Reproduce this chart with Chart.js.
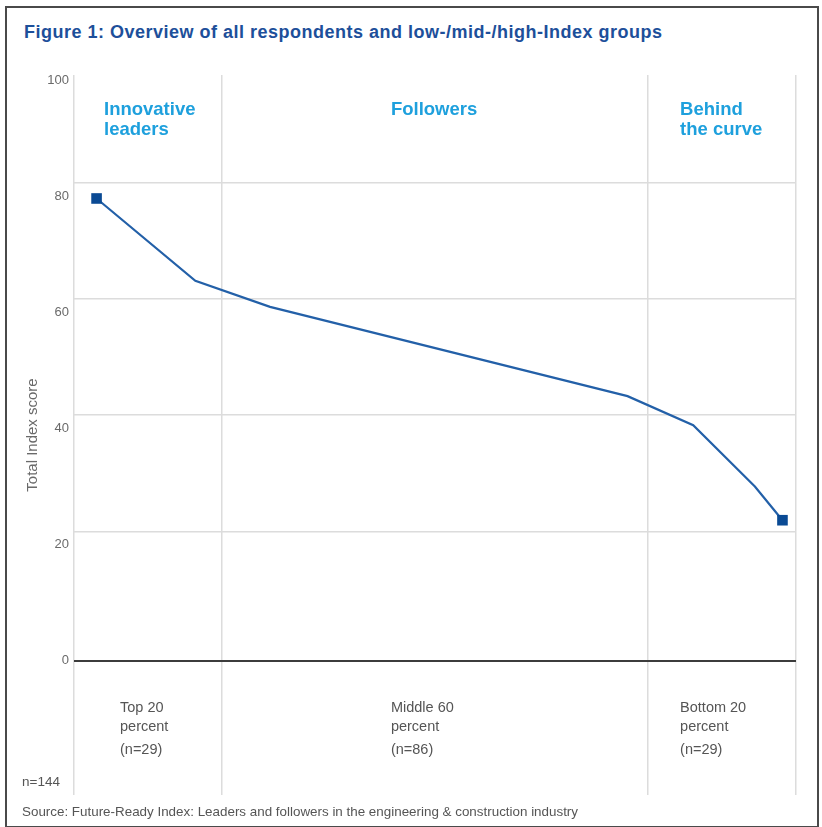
<!DOCTYPE html>
<html>
<head>
<meta charset="utf-8">
<script src="https://cdn.jsdelivr.net/npm/chart.js@4"></script>
<style>
  body { margin: 0; background: #fff; font-family: "Liberation Sans", Arial, sans-serif; }
  #wrap { position: relative; width: 822px; height: 827px; overflow: hidden; }
  #frame { position: absolute; left: 5px; top: 6px; width: 810px; height: 818px; border: 2px solid #4a4a4a; }
  #title { position: absolute; left: 24px; top: 22px; font-size: 18px; line-height: 20px; letter-spacing: 0.5px; font-weight: bold; color: #1d4f9a; white-space: nowrap; }
  #n { position: absolute; left: 22px; top: 774px; font-size: 13.5px; color: #555; }
  #source { position: absolute; left: 22px; top: 804px; font-size: 13.4px; color: #555; white-space: nowrap; }
  canvas { position: absolute; left: 0; top: 0; }
</style>
</head>
<body>
<div id="wrap">
  <div id="frame"></div>
  <div id="title">Figure 1: Overview of all respondents and low-/mid-/high-Index groups</div>
  <canvas id="chart" width="822" height="827"></canvas>
  <div id="n">n=144</div>
  <div id="source">Source: Future-Ready Index: Leaders and followers in the engineering &amp; construction industry</div>
</div>
<script>
// respondent rank (1..144, sorted by score) and total index score
const rank = [4.5, 24.2, 39.1, 110.4, 123.5, 135.8, 141.3];
const score = [79.7, 65.5, 61.0, 45.6, 40.6, 30.0, 24.2];

const yTicks = [0, 20, 40, 60, 80, 100];
// group boundaries on the rank axis
const groupBounds = [0, 29.5, 114.5, 144];
const groupNames = [["Innovative", "leaders"], ["Followers"], ["Behind", "the curve"]];
const groupNotes = [
  ["Top 20", "percent", "(n=29)"],
  ["Middle 60", "percent", "(n=86)"],
  ["Bottom 20", "percent", "(n=29)"],
];

// text offsets from each group's left edge
const nameOffset = [30, 169, 32];
const noteOffset = [46, 169, 32];

const groupText = {
  id: "groupText",
  afterDraw(chart) {
    const ctx = chart.ctx;
    const x = chart.scales.x;
    ctx.save();
    ctx.textAlign = "left";
    ctx.textBaseline = "alphabetic";
    groupNames.forEach((lines, i) => {
      const px = x.getPixelForValue(groupBounds[i]) + nameOffset[i];
      ctx.font = "bold 18.5px 'Liberation Sans', Arial, sans-serif";
      ctx.fillStyle = "#1ea0dd";
      lines.forEach((t, j) => ctx.fillText(t, px, 115 + j * 19.5));
    });
    groupNotes.forEach((lines, i) => {
      const px = x.getPixelForValue(groupBounds[i]) + noteOffset[i];
      ctx.font = "14.5px 'Liberation Sans', Arial, sans-serif";
      ctx.fillStyle = "#555";
      const ys = [711.5, 730.5, 753.5];
      lines.forEach((t, j) => ctx.fillText(t, px, ys[j]));
    });
    ctx.restore();
  },
};

new Chart(document.getElementById("chart"), {
  type: "line",
  data: {
    datasets: [{
      data: rank.map((r, i) => ({ x: r, y: score[i] })),
      borderColor: "#2360a8",
      borderWidth: 2.2,
      backgroundColor: "#0a4a94",
      pointStyle: "rect",
      pointRadius: (c) => (c.dataIndex === 0 || c.dataIndex === rank.length - 1 ? 7.5 : 0),
      pointBorderWidth: 0,
      tension: 0,
    }],
  },
  options: {
    responsive: false,
    animation: false,
    layout: { padding: { left: 20, top: 75, right: 26, bottom: 32 } },
    plugins: { legend: { display: false }, tooltip: { enabled: false } },
    scales: {
      x: {
        type: "linear",
        min: 0,
        max: 144,
        afterBuildTicks: (s) => { s.ticks = groupBounds.map((v) => ({ value: v })); },
        afterFit: (s) => { s.height = 0; },
        ticks: { display: false },
        border: { display: false },
        grid: { color: "#dcdcdc", lineWidth: 1.5, drawTicks: false },
      },
      y: {
        min: -23.2,
        max: 101,
        afterBuildTicks: (s) => { s.ticks = yTicks.map((v) => ({ value: v })); },
        afterFit: (s) => { s.width = 54; },
        border: { display: false },
        grid: {
          drawTicks: false,
          color: (c) => (c.tick && c.tick.value === 0 ? "#3c3c3c" : "rgba(0,0,0,0)"),
          lineWidth: (c) => (c.tick && c.tick.value === 0 ? 2 : 0),
        },
        ticks: {
          padding: 5,
          color: "#6a6a6a",
          font: { family: "'Liberation Sans', Arial, sans-serif", size: 13 },
        },
        title: {
          display: true,
          text: "Total Index score",
          color: "#6a6a6a",
          padding: 4,
          font: { family: "'Liberation Sans', Arial, sans-serif", size: 15 },
        },
      },
      // horizontal gridlines sit slightly above their tick labels in the original
      yGrid: {
        position: "left",
        min: -25.38,
        max: 98.52,
        afterBuildTicks: (s) => { s.ticks = [20, 40, 60, 80].map((v) => ({ value: v })); },
        afterFit: (s) => { s.width = 0; },
        ticks: { display: false },
        border: { display: false },
        grid: { color: "#dcdcdc", lineWidth: 1.5, drawTicks: false },
      },
    },
  },
  plugins: [groupText],
});
</script>
</body>
</html>
